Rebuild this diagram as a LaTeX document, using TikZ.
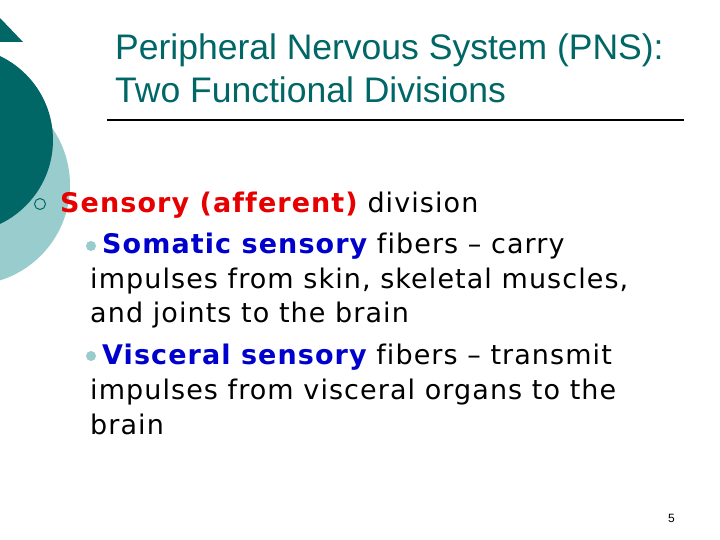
\documentclass[tikz,border=0pt]{standalone}
\usepackage{fontspec}
\setmainfont{DejaVu Sans}[LetterSpace=4,Ligatures=NoCommon]
\newfontfamily\titlefont{Liberation Sans}
\definecolor{dteal}{RGB}{0,102,102}
\definecolor{lteal}{RGB}{153,204,204}
\definecolor{sred}{RGB}{230,0,0}
\definecolor{sblue}{RGB}{0,0,204}
\begin{document}
\begin{tikzpicture}[x=1pt,y=-1pt,
  body/.style={anchor=base west,inner sep=0pt,font=\fontsize{27}{32}\selectfont},
  ttl/.style={anchor=base west,inner sep=0pt,text=dteal,font=\titlefont\fontsize{35.5}{40}\selectfont}]
\useasboundingbox (0,0) rectangle (720,540);
\fill[white] (0,0) rectangle (720,540);
\begin{scope}
\clip (0,0) rectangle (720,540);
\fill[lteal] (-30,185) circle (100);
\fill[dteal] (-40,140) circle (93);
\fill[dteal] (0,18) -- (23,42) -- (0,42) -- cycle;
\end{scope}
\node[ttl] (t1) at (115,60) {Peripheral Nervous System (PNS):};
\node[ttl] (t2) at (115,103) {Two Functional Divisions};
\coordinate (ra) at (107,120);
\coordinate (rb) at (684,120);
\draw[line width=1.5pt] (ra) -- (rb);
\node[circle,draw=dteal,line width=1pt,minimum size=11pt,inner sep=0pt] (b1) at (40,204) {};
\node[body] (l1) at (60,213) {\textbf{\textcolor{sred}{Sensory (afferent)}} division};
\node[circle,fill=lteal,minimum size=10pt,inner sep=0pt] (b2) at (91,246) {};
\node[body] (l2) at (102,254) {\textbf{\textcolor{sblue}{Somatic sensory}} fibers – carry};
\node[body] (l3) at (90,288) {impulses from skin, skeletal muscles,};
\node[body] (l4) at (90,322) {and joints to the brain};
\node[circle,fill=lteal,minimum size=10pt,inner sep=0pt] (b3) at (91,356) {};
\node[body] (l5) at (102,364) {\textbf{\textcolor{sblue}{Visceral sensory}} fibers – transmit};
\node[body] (l6) at (90,399) {impulses from visceral organs to the};
\node[body] (l7) at (90,434) {brain};
\node[anchor=base west,inner sep=0pt,font=\titlefont\fontsize{12}{14}\selectfont] (pg) at (668,522) {5};
\end{tikzpicture}
\end{document}
